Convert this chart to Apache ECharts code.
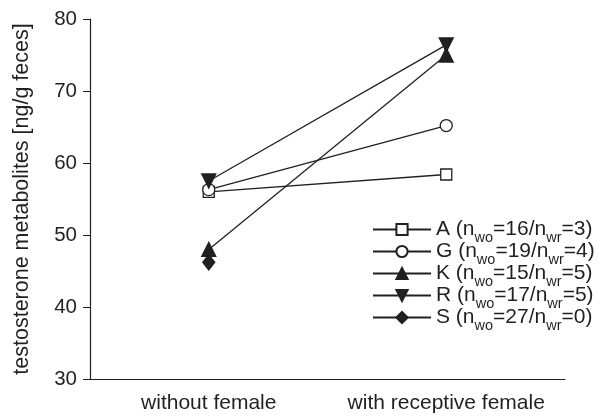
<!DOCTYPE html>
<html>
<head>
<meta charset="utf-8">
<script src="https://cdn.jsdelivr.net/npm/echarts@6/dist/echarts.min.js"></script>
<style>
  html, body { margin: 0; padding: 0; background: #fff; }
  #chart { width: 605px; height: 417px; }
</style>
</head>
<body>
<div id="chart"></div>
<script>
// Conditions on the x axis
const conditions = ['without female', 'with receptive female'];

// Mean testosterone metabolites per male [ng/g feces]
const maleA = [56.0, 58.4];
const maleG = [56.3, 65.2];
const maleK = [48.0, 75.0];
const maleR = [57.5, 76.4];
const maleS = [46.2, null];

// Sample sizes: without female / with receptive female
const nA = [16, 3];
const nG = [19, 4];
const nK = [15, 5];
const nR = [17, 5];
const nS = [27, 0];

const yTicks = [30, 40, 50, 60, 70, 80];

const ink = '#231f20';
const font = '"Liberation Sans", Arial, Helvetica, sans-serif';

function legendName(id, n) {
  return id + ' (n{sub|wo}=' + n[0] + '/n{sub|wr}=' + n[1] + ')';
}

const males = [
  { id: 'A', data: maleA, n: nA, symbol: 'rect', size: 11, fill: '#ffffff' },
  { id: 'G', data: maleG, n: nG, symbol: 'circle', size: 12, fill: '#ffffff' },
  { id: 'K', data: maleK, n: nK, symbol: 'triangle', size: 14, fill: ink },
  { id: 'R', data: maleR, n: nR, symbol: 'path://M0,0 L10,0 L5,9 Z', size: 14, fill: ink },
  { id: 'S', data: maleS, n: nS, symbol: 'diamond', size: [12, 15], fill: ink }
];

const series = males.map(m => ({
  name: legendName(m.id, m.n),
  type: 'line',
  data: m.data,
  symbol: m.symbol,
  symbolSize: m.size,
  showAllSymbol: true,
  connectNulls: false,
  lineStyle: { color: ink, width: 1.3 },
  itemStyle: { color: m.fill, borderColor: ink, borderWidth: 1.3 },
  emphasis: { disabled: true },
  animation: false
}));

const chart = echarts.init(document.getElementById('chart'));
chart.setOption({
  backgroundColor: '#ffffff',
  animation: false,
  grid: { left: 90, right: 40, top: 19, bottom: 38 },
  xAxis: {
    type: 'category',
    data: conditions,
    boundaryGap: true,
    axisLine: { lineStyle: { color: ink, width: 1.2 } },
    axisTick: { alignWithLabel: true, length: 5, lineStyle: { color: ink } },
    axisLabel: { interval: 0, hideOverlap: false, color: ink, fontSize: 21, fontFamily: font, margin: 14 },
    splitLine: { show: false }
  },
  yAxis: {
    type: 'value',
    min: yTicks[0],
    max: yTicks[yTicks.length - 1],
    interval: 10,
    name: 'testosterone metabolites [ng/g feces]',
    nameLocation: 'middle',
    nameGap: 57,
    nameTextStyle: { color: ink, fontSize: 21.5, fontFamily: font },
    axisLine: { show: true, lineStyle: { color: ink, width: 1.2 } },
    axisTick: { show: true, length: 7, lineStyle: { color: ink } },
    axisLabel: { color: ink, fontSize: 20.5, fontFamily: font, margin: 13 },
    splitLine: { show: false }
  },
  legend: {
    orient: 'vertical',
    left: 372,
    top: 214,
    padding: 0,
    itemWidth: 58,
    itemHeight: 14,
    itemGap: -9,
    selectedMode: false,
    textStyle: {
      color: ink,
      fontSize: 21,
      fontFamily: font,
      lineHeight: 22,
      rich: {
        sub: { fontSize: 14.5, fontFamily: font, color: ink, lineHeight: 6, padding: [16, 0, 0, 0] }
      }
    },
    data: series.map(s => s.name)
  },
  series: series
});
</script>
</body>
</html>
